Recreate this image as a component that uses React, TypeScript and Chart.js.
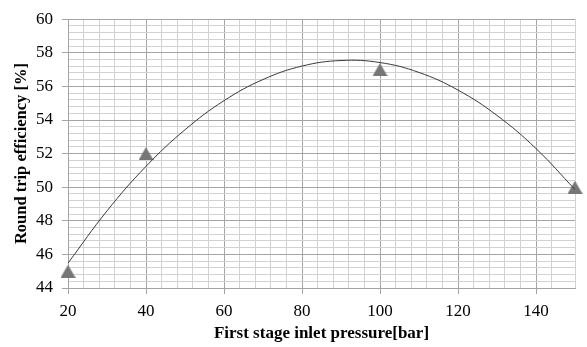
import React, { useEffect, useRef } from "react";
import { Chart, registerables } from "chart.js";

Chart.register(...registerables);

const pressures = [20, 40, 100, 150];
const efficiencies = [45, 52, 57, 50];

const trendX = [20, 30, 40, 50, 60, 70, 80, 90, 100, 110, 120, 130, 140, 150];
const trendY = [45.48, 48.59, 51.24, 53.42, 55.15, 56.41, 57.21, 57.54, 57.42, 56.83, 55.78, 54.27, 52.3, 49.86];

const xTitle = "First stage inlet pressure[bar]";
const yTitle = "Round trip efficiency [%]";

const isMult = (v: number, m: number) => Math.abs(v / m - Math.round(v / m)) < 1e-6;

function makeTriangle(): HTMLCanvasElement {
  const c = document.createElement("canvas");
  const w = 15;
  const h = 13;
  c.width = w;
  c.height = h;
  const ctx = c.getContext("2d")!;
  ctx.fillStyle = "#767676";
  ctx.beginPath();
  ctx.moveTo(w / 2, 0);
  ctx.lineTo(w, h);
  ctx.lineTo(0, h);
  ctx.closePath();
  ctx.fill();
  return c;
}

export default function App() {
  const ref = useRef<HTMLCanvasElement | null>(null);
  useEffect(() => {
    if (!ref.current) return;
    const serif = "'Liberation Serif', 'Times New Roman', serif";
    const tri = makeTriangle();
    const chart = new Chart(ref.current, {
      type: "scatter",
      data: {
        datasets: [
          {
            label: "trend",
            type: "line",
            data: trendX.map((x, i) => ({ x, y: trendY[i] })),
            borderColor: "#3a3a3a",
            borderWidth: 1,
            pointRadius: 0,
            tension: 0.4,
            fill: false,
          } as any,
          {
            label: "data",
            data: pressures.map((x, i) => ({ x, y: efficiencies[i] })),
            pointStyle: tri as any,
            pointRadius: 8,
            backgroundColor: "#767676",
            borderColor: "#767676",
            borderWidth: 0,
            clip: false as any,
          },
        ],
      },
      options: {
        responsive: false,
        animation: false,
        layout: { padding: { top: 13, right: 12, left: 0, bottom: 0 } },
        plugins: { legend: { display: false }, tooltip: { enabled: false } },
        scales: {
          x: {
            type: "linear",
            min: 20,
            max: 150,
            afterFit: (s: any) => { s.height = 59; },
            ticks: {
              stepSize: 4,
              autoSkip: false,
              maxRotation: 0,
              padding: 7,
              color: "#000",
              font: { family: serif, size: 17 },
              callback: (v: any) => (isMult(Number(v), 20) ? String(v) : ""),
            },
            grid: {
              color: (c: any) => (c.tick && isMult(c.tick.value, 20) ? "#a4a4a4" : "#d2d2d2"),
              tickColor: (c: any) => (c.tick && isMult(c.tick.value, 20) ? "#a4a4a4" : "rgba(0,0,0,0)"),
              tickLength: 6,
              lineWidth: 1,
            },
            border: { color: "#a4a4a4" },
            title: {
              display: true,
              text: xTitle,
              color: "#000",
              font: { family: serif, size: 17, weight: "bold" },
              padding: { top: 0, bottom: 3 },
            },
          },
          y: {
            type: "linear",
            min: 44,
            max: 60,
            afterFit: (s: any) => { s.width = 68; },
            ticks: {
              stepSize: 0.4,
              autoSkip: false,
              padding: 9,
              color: "#000",
              font: { family: serif, size: 17 },
              callback: (v: any) => (isMult(Number(v), 2) ? String(Math.round(Number(v))) : ""),
            },
            grid: {
              color: (c: any) => (c.tick && isMult(c.tick.value, 2) ? "#a4a4a4" : "#d2d2d2"),
              tickColor: (c: any) => (c.tick && isMult(c.tick.value, 2) ? "#a4a4a4" : "rgba(0,0,0,0)"),
              tickLength: 6,
              lineWidth: 1,
            },
            border: { color: "#a4a4a4" },
            title: {
              display: true,
              text: yTitle,
              color: "#000",
              font: { family: serif, size: 16.5, weight: "bold" },
              padding: { top: 12, bottom: 0 },
            },
          },
        },
      },
    });
    return () => chart.destroy();
  }, []);
  return (
    <div style={{ position: "fixed", left: 0, top: 0, width: 587, height: 347, background: "#fff" }}>
      <canvas ref={ref} width={587} height={347} />
    </div>
  );
}
